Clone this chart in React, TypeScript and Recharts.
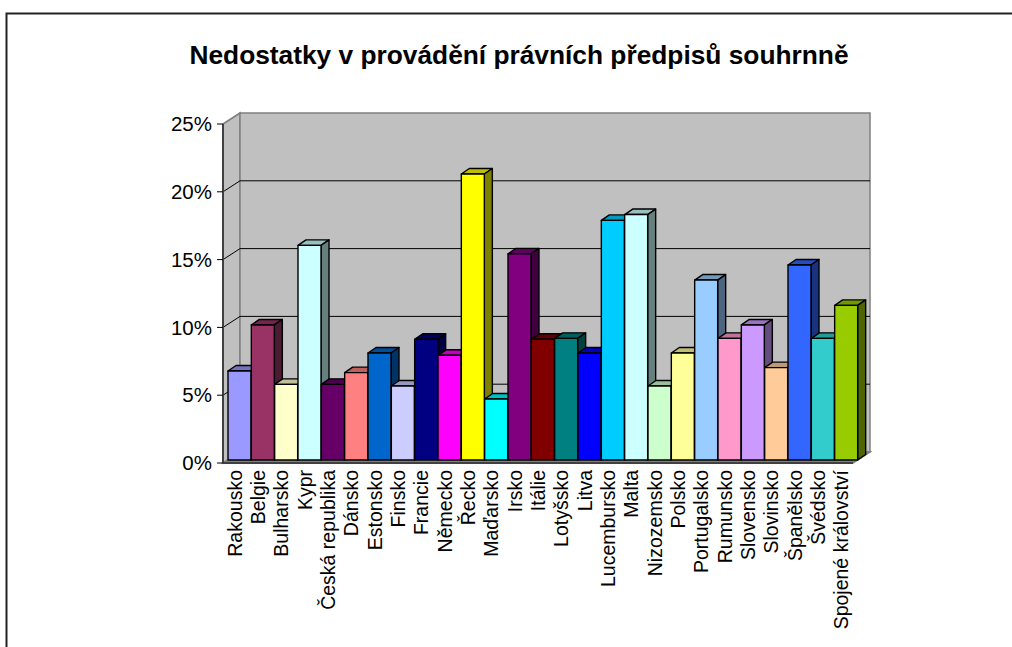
import { Bar, BarChart, CartesianGrid, XAxis, YAxis } from "recharts"

const TITLE = "Nedostatky v provádění právních předpisů souhrnně"
const FONT = "'Liberation Sans', Arial, sans-serif"

const categories = [
  "Rakousko", "Belgie", "Bulharsko", "Kypr", "Česká republika", "Dánsko", "Estonsko", "Finsko", "Francie",
  "Německo", "Řecko", "Maďarsko", "Irsko", "Itálie", "Lotyšsko", "Litva", "Lucembursko", "Malta",
  "Nizozemsko", "Polsko", "Portugalsko", "Rumunsko", "Slovensko", "Slovinsko", "Španělsko", "Švédsko",
  "Spojené království",
]
const values = [
  6.56, 9.96, 5.58, 15.83, 5.58, 6.44, 7.89, 5.46, 8.9,
  7.72, 21.09, 4.5, 15.2, 8.9, 8.97, 7.89, 17.67, 18.1,
  5.46, 7.89, 13.27, 8.97, 9.96, 6.81, 14.38, 8.97,
  11.4,
]
const colors = [
  "#9999FF", "#993366", "#FFFFCC", "#CCFFFF", "#660066", "#FF8080", "#0066CC", "#CCCCFF", "#000080",
  "#FF00FF", "#FFFF00", "#00FFFF", "#800080", "#800000", "#008080", "#0000FF", "#00CCFF", "#CCFFFF",
  "#CCFFCC", "#FFFF99", "#99CCFF", "#FF99CC", "#CC99FF", "#FFCC99", "#3366FF", "#33CCCC",
  "#99CC00",
]
const yTicks = [0, 5, 10, 15, 20, 25]

const data = categories.map((name, i) => ({ name, value: values[i], color: colors[i] }))

// depth of the fake 3D box, front plane to back wall
const WALL_DX = 17
const WALL_DY = -11
// bars stand a little behind the front plane
const BAR_DX = 5
const BAR_DY = -3
const BAR_DEPTH_X = 8
const BAR_DEPTH_Y = -5.5

function shade(hex: string, k: number) {
  const n = parseInt(hex.slice(1), 16)
  const c = [(n >> 16) & 255, (n >> 8) & 255, n & 255].map((v) => Math.round(v * k))
  return `rgb(${c[0]},${c[1]},${c[2]})`
}

function Bar3D(props: any) {
  const { x, y, width, height, payload } = props
  const l = x + BAR_DX
  const t = y + BAR_DY
  const r = l + width
  const b = t + height
  const dx = BAR_DEPTH_X
  const dy = BAR_DEPTH_Y
  const common = { stroke: "#000", strokeWidth: 1.4, strokeLinejoin: "round" as const }
  return (
    <g>
      <polygon points={`${l},${t} ${l + dx},${t + dy} ${r + dx},${t + dy} ${r},${t}`} fill={shade(payload.color, 0.75)} {...common} />
      <polygon points={`${r},${t} ${r + dx},${t + dy} ${r + dx},${b + dy} ${r},${b}`} fill={shade(payload.color, 0.5)} {...common} />
      <rect x={l} y={t} width={width} height={height} fill={payload.color} {...common} />
    </g>
  )
}

// one grid line: runs up the side wall, then along the back wall
function WallLine(props: any) {
  const { x1, x2, y1 } = props
  if (y1 > 460) return <g />
  const bx = x1 + WALL_DX
  const by = y1 + WALL_DY
  const top = y1 < 130
  return (
    <g>
      <path d={`M${x1},${y1} L${bx},${by}`} stroke={top ? "#808080" : "#000"} strokeWidth={1} fill="none" />
      {!top && <path d={`M${bx},${by} L${x2 + WALL_DX},${by}`} stroke="#000" strokeWidth={1} fill="none" />}
    </g>
  )
}

function CategoryTick(props: any) {
  const { x, y, payload } = props
  return (
    <text
      x={x}
      y={y}
      transform={`rotate(-90 ${x} ${y})`}
      textAnchor="end"
      dominantBaseline="central"
      fontFamily={FONT}
      fontSize={19.5}
      fill="#000"
    >
      {payload.value}
    </text>
  )
}

export default function App() {
  return (
    <div style={{ position: "absolute", left: 0, top: 0, width: 1012, height: 647, overflow: "hidden", background: "#fff" }}>
      <svg width={1012} height={647} style={{ position: "absolute", left: 0, top: 0 }}>
        <path d="M6.5,647 L6.5,13.5 L1012,13.5" fill="none" stroke="#222" strokeWidth={2} />
        <text x={519} y={64} textAnchor="middle" fontFamily={FONT} fontWeight="bold" fontSize={26.3} fill="#000">
          {TITLE}
        </text>
        <polygon points="223,124 240,113 240,452 223,463" fill="#C0C0C0" stroke="#808080" strokeWidth={1.5} />
        <rect x={240} y={113} width={630} height={339} fill="#C0C0C0" stroke="#808080" strokeWidth={1.5} />
        <polygon points="223,463 853,463 870,452 240,452" fill="#808080" stroke="#808080" strokeWidth={1.5} />
      </svg>
      <div style={{ position: "absolute", left: 0, top: 0 }}>
        <BarChart
          width={1012}
          height={647}
          data={data}
          barCategoryGap={0}
          margin={{ top: 124, right: 159, left: 23, bottom: 0 }}
        >
          <CartesianGrid vertical={false} horizontal={(p: any) => <WallLine {...p} />} />
          <XAxis
            dataKey="name"
            interval={0}
            height={184}
            axisLine={{ stroke: "#404040", strokeWidth: 2 }}
            tickLine={false}
            tickMargin={0}
            tick={(p: any) => <CategoryTick {...p} y={p.y + 1} />}
          />
          <YAxis
            width={200}
            domain={[0, 25]}
            ticks={yTicks}
            tickSize={6}
            tickMargin={5}
            tick={{ fontFamily: FONT, fontSize: 20.5, fill: "#000" }}
            tickLine={{ stroke: "#000" }}
            axisLine={{ stroke: "#404040", strokeWidth: 2 }}
            tickFormatter={(v) => `${v}%`}
          />
          <Bar dataKey="value" isAnimationActive={false} shape={(p: any) => <Bar3D {...p} />} />
        </BarChart>
      </div>
    </div>
  )
}
